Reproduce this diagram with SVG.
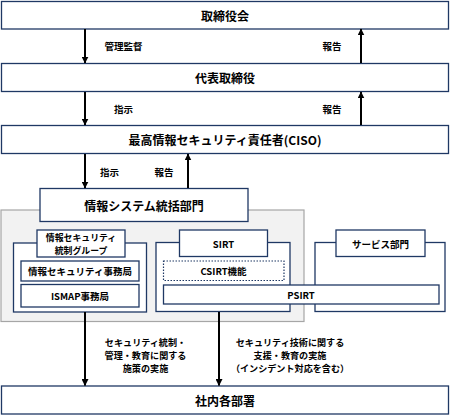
<svg xmlns="http://www.w3.org/2000/svg" width="450" height="415" viewBox="0 0 450 415">
<defs>
<marker id="ah" viewBox="0 0 6 6" refX="5.5" refY="3" markerWidth="3.5" markerHeight="3.5" orient="auto">
<path d="M0,0 L6,3 L0,6 z" fill="#000"/>
</marker>
<style>
.box{fill:#fff;stroke:#1f3864;stroke-width:1.3}
.dot{fill:#fff;stroke:#1f3864;stroke-width:1.2;stroke-dasharray:1.5 1.5}
.grp{fill:#f2f2f2;stroke:#a6a6a6;stroke-width:1.2}
.t{font-family:"Noto Sans CJK JP","Noto Sans",sans-serif;font-weight:bold;fill:#000;text-anchor:middle;dominant-baseline:central}
.big{font-size:12px}
.sm{font-size:9.5px}
.ml{font-size:9.1px}
.gl{font-size:8.9px}
.arr{stroke:#000;stroke-width:2;fill:none;marker-end:url(#ah)}
</style>
</defs>
<rect width="450" height="415" fill="#fff"/>

<g id="container">
<rect class="grp" x="1" y="210" width="303" height="111.5"/>
</g>

<g id="board"><rect class="box" x="1.5" y="1.5" width="447" height="27.5"/><text class="t big" x="225" y="15.5">取締役会</text></g>
<g id="ceo"><rect class="box" x="1.5" y="63.5" width="447" height="28"/><text class="t big" x="225" y="77.5">代表取締役</text></g>
<g id="ciso"><rect class="box" x="1.5" y="125.5" width="447" height="28"/><text class="t big" x="225" y="139.5">最高情報セキュリティ責任者(CISO)</text></g>
<g id="isdept"><rect class="box" x="40" y="188.5" width="208" height="33"/><text class="t big" x="144" y="205">情報システム統括部門</text></g>

<g id="governance">
<rect class="box" x="13.5" y="243" width="133" height="69"/>
<rect class="box" x="37" y="230" width="88" height="27"/>
<text class="t gl" x="81" y="237">情報セキュリティ</text>
<text class="t gl" x="81" y="250.1">統制グループ</text>
</g>
<g id="secoffice"><rect class="box" x="21" y="261" width="118" height="20"/><text class="t sm" x="80" y="271">情報セキュリティ事務局</text></g>
<g id="ismap"><rect class="box" x="21" y="284.5" width="118" height="22.5"/><text class="t sm" x="80" y="296">ISMAP事務局</text></g>

<g id="sirt">
<rect class="box" x="156" y="242.5" width="134" height="69"/>
<rect class="box" x="179.5" y="230" width="88" height="26.5"/>
<text class="t sm" x="223.5" y="243.5">SIRT</text>
</g>
<g id="csirt"><rect class="dot" x="163.5" y="261" width="120.5" height="19.5"/><text class="t sm" x="223.5" y="270.5">CSIRT機能</text></g>

<g id="service">
<rect class="box" x="315" y="242.5" width="130" height="69"/>
<rect class="box" x="336" y="230" width="89" height="26.5"/>
<text class="t sm" x="380.5" y="243.5">サービス部門</text>
</g>
<g id="psirt"><rect class="box" x="163.5" y="285" width="275.5" height="19"/><text class="t sm" x="301" y="294.5">PSIRT</text></g>

<g id="all"><rect class="box" x="1.5" y="386" width="447" height="28"/><text class="t big" x="225" y="400">社内各部署</text></g>

<g id="connectors">
<line class="arr" x1="85" y1="29" x2="85" y2="63"/>
<line class="arr" x1="361" y1="63" x2="361" y2="29"/>
<line class="arr" x1="85" y1="92" x2="85" y2="125"/>
<line class="arr" x1="361" y1="125" x2="361" y2="92"/>
<line class="arr" x1="85" y1="154" x2="85" y2="188"/>
<line class="arr" x1="188" y1="188" x2="188" y2="154"/>
<line class="arr" x1="85" y1="312" x2="85" y2="385.5"/>
<line class="arr" x1="219" y1="312" x2="219" y2="385.5"/>
</g>

<g id="labels">
<text class="t sm" x="123.5" y="46">管理監督</text>
<text class="t sm" x="332" y="46">報告</text>
<text class="t sm" x="123.5" y="109">指示</text>
<text class="t sm" x="332" y="109">報告</text>
<text class="t sm" x="109.5" y="172">指示</text>
<text class="t sm" x="164" y="172">報告</text>
<text class="t ml" x="145.5" y="341.5">セキュリティ統制・</text>
<text class="t ml" x="145.5" y="354.8">管理・教育に関する</text>
<text class="t ml" x="145.5" y="368.1">施策の実施</text>
<text class="t ml" x="290" y="341.5">セキュリティ技術に関する</text>
<text class="t ml" x="290" y="354.8">支援・教育の実施</text>
<text class="t ml" x="290" y="368.1">（インシデント対応を含む）</text>
</g>
</svg>
